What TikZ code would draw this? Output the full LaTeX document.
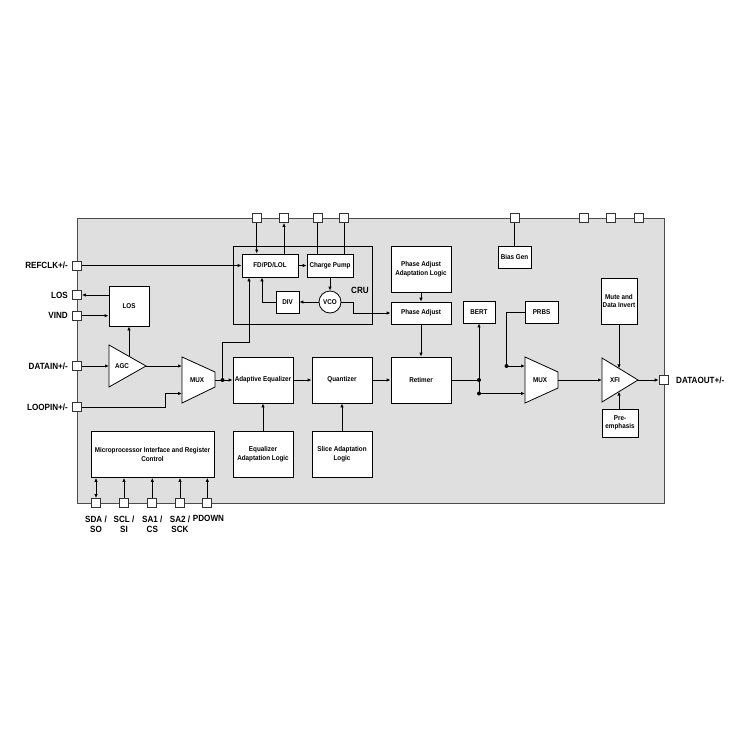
\documentclass[tikz,border=0pt]{standalone}
\usepackage{fontspec}
\setmainfont{Liberation Sans}[FakeStretch=0.9]
\usetikzlibrary{arrows.meta,calc}
\begin{document}
\begin{tikzpicture}[x=1pt,y=-1pt,
  box/.style={draw=black,fill=white,line width=0.8pt,inner sep=1pt,align=center,font=\bfseries\fontsize{7}{8.5}\selectfont},
  pin/.style={draw=black!80,fill=white,line width=0.7pt,minimum size=9pt,inner sep=0pt},
  lbl/.style={font=\bfseries\fontsize{9}{10.5}\selectfont,inner sep=0pt,align=center},
  ilbl/.style={font=\bfseries\fontsize{7}{8.5}\selectfont,inner sep=0pt},
  wire/.style={line width=0.8pt},
  arr/.style={wire,-{Latex[length=4pt,width=3.4pt]}},
  biarr/.style={wire,{Latex[length=4pt,width=3.4pt]}-{Latex[length=4pt,width=3.4pt]}},
  dot/.style={circle,fill=black,minimum size=4pt,inner sep=0pt},
]
\useasboundingbox (0,0) rectangle (750,750);
\fill[white] (0,0) rectangle (750,750);
% main block
\draw[fill=gray!25,draw=black!70,line width=1pt] (77,218) rectangle (664,503);

% CRU
\node[draw=black,line width=0.8pt,minimum width=139pt,minimum height=78pt,inner sep=0pt] (cru) at (302.5,285) {};
\node[lbl] (crulbl) at (360,290) {CRU};
\node[box,minimum width=56pt,minimum height=23pt] (fd) at (270,265.5) {FD/PD/LOL};
\node[box,minimum width=46pt,minimum height=23pt] (cp) at (330,265.5) {Charge Pump};
\node[box,minimum width=23pt,minimum height=22pt] (div) at (287.5,302) {DIV};
\node[box,circle,minimum size=22pt,inner sep=0pt] (vco) at (330,302) {VCO};

% other boxes
\node[box,minimum width=40pt,minimum height=40pt] (losb) at (129,306) {LOS};
\node[box,minimum width=60pt,minimum height=46pt] (paal) at (421,269) {Phase Adjust\\Adaptation Logic};
\node[box,minimum width=60pt,minimum height=22pt] (pa) at (421,313) {Phase Adjust};
\node[box,minimum width=33pt,minimum height=22pt] (bias) at (514.5,257) {Bias Gen};
\node[box,minimum width=32pt,minimum height=22pt] (bert) at (479,312) {BERT};
\node[box,minimum width=33pt,minimum height=22pt] (prbs) at (541.5,312) {PRBS};
\node[box,minimum width=36pt,minimum height=46pt] (mute) at (619,301) {Mute and\\Data Invert};
\node[box,minimum width=60pt,minimum height=46pt] (rt) at (421,380) {Retimer};
\node[box,minimum width=60pt,minimum height=46pt] (ae) at (263,380) {Adaptive Equalizer};
\node[box,minimum width=60pt,minimum height=46pt] (q) at (342,380) {Quantizer};
\node[box,minimum width=60pt,minimum height=46pt] (eal) at (263,454) {Equalizer\\Adaptation Logic};
\node[box,minimum width=60pt,minimum height=46pt] (sal) at (342,454) {Slice Adaptation\\Logic};
\node[box,minimum width=123pt,minimum height=46pt,anchor=north] (micro) at (152.5,431) {Microprocessor Interface and Register\\Control};
\node[box,minimum width=36pt,minimum height=28pt] (pre) at (620,423) {Pre-\\emphasis};

% triangles and muxes
\draw[wire,fill=white] (109,345) -- (109,387) -- (146,366) -- cycle;
\node[ilbl] (agclbl) at (122,366) {AGC};
\coordinate (agcin) at (109,366);
\coordinate (agcout) at (146,366);
\coordinate (agctop) at (129,356.4);

\draw[wire,fill=white] (182,357) -- (215,372) -- (215,387) -- (182,403) -- cycle;
\node[ilbl] (m1lbl) at (197,380) {MUX};
\coordinate (m1in1) at (182,366);
\coordinate (m1in2) at (182,393.5);
\coordinate (m1out) at (215,380);

\draw[wire,fill=white] (525,357) -- (558,372) -- (558,388) -- (525,403) -- cycle;
\node[ilbl] (m2lbl) at (540,380) {MUX};
\coordinate (m2in1) at (525,366);
\coordinate (m2in2) at (525,393.5);
\coordinate (m2out) at (558,380);

\draw[wire,fill=white] (602,358) -- (602,402) -- (638,380) -- cycle;
\node[ilbl] (xfilbl) at (615,380) {XFI};
\coordinate (xfiin) at (602,380);
\coordinate (xfiout) at (638,380);
\coordinate (xfitop) at (619,368.4);
\coordinate (xfibot) at (619,391.6);

% pins
\node[pin] (p1) at (256.7,218) {};
\node[pin] (p2) at (284,218) {};
\node[pin] (p3) at (317.7,218) {};
\node[pin] (p4) at (344.3,218) {};
\node[pin] (pb) at (514.5,218) {};
\node[pin] (p6) at (583.7,218) {};
\node[pin] (p7) at (611.3,218) {};
\node[pin] (p8) at (639.3,218) {};
\node[pin] (refclk) at (77,265.5) {};
\node[pin] (los) at (77,295) {};
\node[pin] (vind) at (77,315.7) {};
\node[pin] (datain) at (77,366) {};
\node[pin] (loopin) at (77,407.3) {};
\node[pin] (sda) at (96,503) {};
\node[pin] (scl) at (124,503) {};
\node[pin] (sa1) at (152.3,503) {};
\node[pin] (sa2) at (180,503) {};
\node[pin] (pdown) at (207.3,503) {};
\node[pin] (dataout) at (663.5,380) {};

% pin labels
\node[lbl,anchor=east] (lrefclk) at (68,265.5) {REFCLK+/-};
\node[lbl,anchor=east] (llos) at (68,295) {LOS};
\node[lbl,anchor=east] (lvind) at (68,315.7) {VIND};
\node[lbl,anchor=east] (ldatain) at (68,366) {DATAIN+/-};
\node[lbl,anchor=east] (lloopin) at (68,407.3) {LOOPIN+/-};
\node[lbl,anchor=west] (ldataout) at (676,380) {DATAOUT+/-};
\node[lbl,anchor=north] (lsda) at (96,515.5) {SDA /\\SO};
\node[lbl,anchor=north] (lscl) at (124,515.5) {SCL /\\SI};
\node[lbl,anchor=north] (lsa1) at (152.3,515.5) {SA1 /\\CS};
\node[lbl,anchor=north] (lsa2) at (180,515.5) {SA2 /\\SCK};
\node[lbl,anchor=north] (lpdown) at (208.5,515.5) {PDOWN};

% dots
\node[dot] (d1) at (222.5,380) {};
\node[dot] (d2) at (479,380) {};
\node[dot] (d3) at (479,393.5) {};
\node[dot] (d4) at (506.5,366) {};

% CRU wiring
\draw[arr] (p1.south) -- (p1.south |- fd.north);
\draw[arr] (p2.south |- fd.north) -- (p2.south);
\draw[wire] (p3.south) -- (p3.south |- cp.north);
\draw[wire] (p4.south) -- (p4.south |- cp.north);
\draw[arr] (refclk.east) -- (fd.west);
\draw[arr] (fd.east) -- (cp.west);
\draw[arr] (cp.south) -- (vco.north);
\draw[arr] (vco.west) -- (div.east);
\draw[arr] (div.west) -| ([xshift=-8pt]fd.south);
\draw[arr] (d1.center) -- ++(0,-38) -| ([xshift=-21pt]fd.south);
\draw[arr] (vco.east) -- ++(12,0) |- (pa.west);

% LOS
\draw[arr] (losb.west |- los) -- (los.east);
\draw[arr] (vind.east) -- (losb.west |- vind);
\draw[arr] (agctop) -- (losb.south);

% data path
\draw[arr] (datain.east) -- (agcin);
\draw[arr] (agcout) -- (m1in1);
\draw[arr] (loopin.east) -- (165,407.3) |- (m1in2);
\draw[wire] (m1out) -- (d1.center);
\draw[arr] (d1.center) -- (ae.west);
\draw[arr] (ae.east) -- (q.west);
\draw[arr] (q.east) -- (rt.west);
\draw[arr] (eal.north) -- (ae.south);
\draw[arr] (sal.north) -- (q.south);
\draw[arr] (paal.south) -- (pa.north);
\draw[arr] (pa.south) -- (rt.north);
\draw[wire] (bias.north) -- (pb.south);
\draw[wire] (rt.east) -- (d2.center);
\draw[arr] (d2.center) -- (bert.south);
\draw[wire] (d2.center) -- (d3.center);
\draw[arr] (d3.center) -- (m2in2);
\draw[wire] (prbs.west) -| (d4.center);
\draw[arr] (d4.center) -- (m2in1);
\draw[arr] (m2out) -- (xfiin);
\draw[arr] (mute.south) -- (xfitop);
\draw[arr] (pre.north -| xfibot) -- (xfibot);
\draw[arr] (xfiout) -- (dataout.west);

% micro pins
\draw[biarr] (sda.north) -- (sda.north |- micro.south);
\draw[arr] (scl.north) -- (scl.north |- micro.south);
\draw[arr] (sa1.north) -- (sa1.north |- micro.south);
\draw[arr] (sa2.north) -- (sa2.north |- micro.south);
\draw[arr] (pdown.north) -- (pdown.north |- micro.south);
\end{tikzpicture}
\end{document}
